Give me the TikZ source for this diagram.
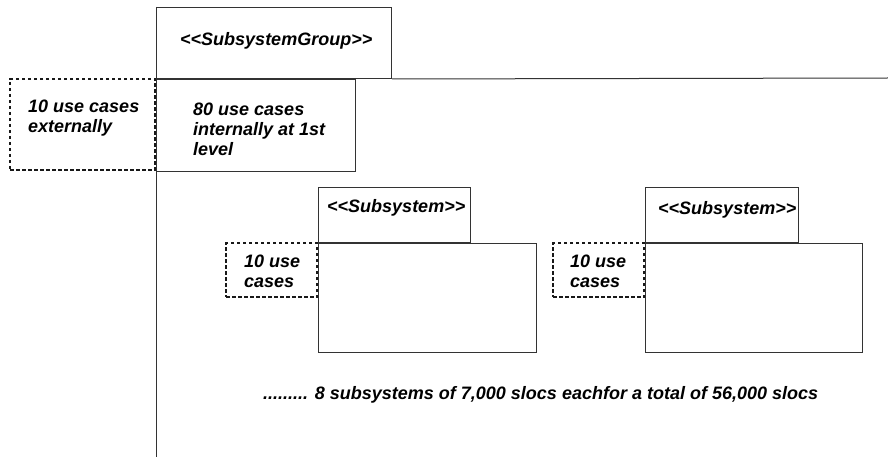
\documentclass[tikz,border=0pt]{standalone}
\usepackage{fontspec}
\setmainfont{Liberation Sans}
\usetikzlibrary{positioning}

\begin{document}
\begin{tikzpicture}
		[x=1pt,y=-1pt,
		box/.style={rectangle,draw=black!80,line width=1pt,inner sep=0pt,anchor=north west},
		usecases/.style={rectangle,draw=black!90,line width=2pt,dash pattern=on 3.5pt off 2.5pt,inner sep=0pt,anchor=north east},
		frame/.style={draw=black!80,line width=1pt},
		txt/.style={font=\bfseries\itshape\fontsize{18}{20}\selectfont,align=left,inner sep=0pt,anchor=west}]
		\useasboundingbox (0,0) rectangle (888,457);

		% subsystem group
		\node [box,minimum width=235pt,minimum height=71pt] (grptab) at (156,7) {};
		\node [usecases,minimum width=145pt,minimum height=91pt] (extuses) at (156,78) {};
		\node [box,minimum width=199pt,minimum height=92pt] (intuses) at (grptab.south west) {};
		\coordinate (frameend) at (888,78);
		\coordinate (framebot) at (156,457);
		\draw [frame] (grptab.south east) -- (frameend);
		\draw [frame] (grptab.north west) -- (framebot);
		\node [txt] (grpname) at (180,41) {{<}{<}SubsystemGroup{>}{>}};
		\node [txt] (exttext) [right=19pt of extuses.west,yshift=6pt] {10 use cases\\externally};
		\node [txt] (inttext) [right=37pt of intuses.west,yshift=-4pt] {80 use cases\\internally at 1st\\level};

		% first subsystem
		\node [usecases,minimum width=91pt,minimum height=54pt] (usesa) at (318,242) {};
		\node [box,minimum width=152pt,minimum height=55pt] (subtaba) at (318,187) {};
		\node [box,minimum width=218pt,minimum height=109pt] (subbodya) at (subtaba.south west) {};
		\node [txt] (subnamea) at (327,208) {{<}{<}Subsystem{>}{>}};
		\node [txt] (usestexta) [right=19pt of usesa.west,yshift=-1pt] {10 use\\cases};

		% second subsystem
		\node [usecases,minimum width=91pt,minimum height=54pt] (usesb) at (645,242) {};
		\node [box,minimum width=153pt,minimum height=55pt] (subtabb) at (645,187) {};
		\node [box,minimum width=217pt,minimum height=109pt] (subbodyb) at (subtabb.south west) {};
		\node [txt] (subnameb) at (658,210) {{<}{<}Subsystem{>}{>}};
		\node [txt] (usestextb) [right=18pt of usesb.west,yshift=-1pt] {10 use\\cases};

		\node [txt] (total) at (263,395) {......... 8 subsystems of 7,000 slocs eachfor a total of 56,000 slocs};
	\end{tikzpicture}
\end{document}
